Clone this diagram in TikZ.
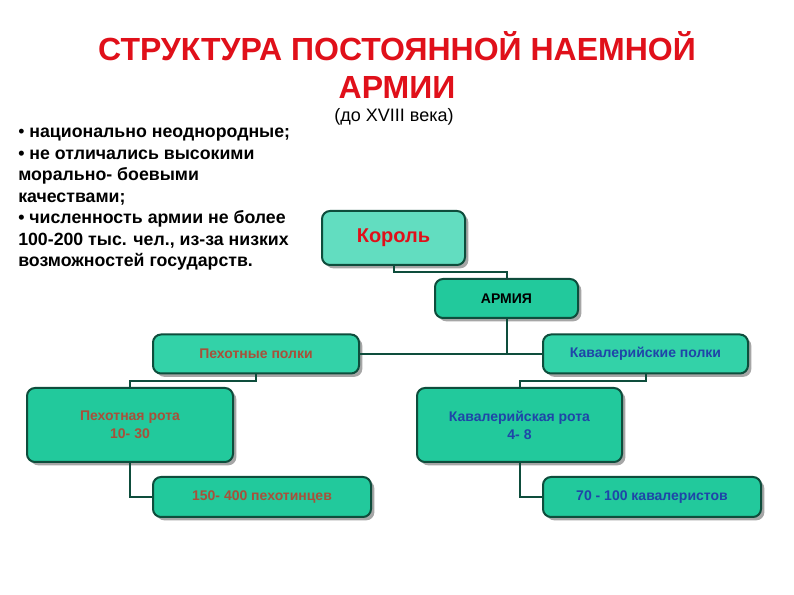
\documentclass[tikz,border=0pt]{standalone}
\usepackage{fontspec}
\setmainfont{Liberation Sans}
\usetikzlibrary{shadows}
\definecolor{boxfill}{HTML}{22C99C}
\definecolor{kingfill}{HTML}{62DDC0}
\definecolor{regfill}{HTML}{33D2A8}
\definecolor{boxline}{HTML}{0E4D3C}
\definecolor{titlered}{HTML}{E0101A}
\definecolor{infbrown}{HTML}{A8503A}
\definecolor{cavblue}{HTML}{1F45A8}
\tikzset{
  x=0.75pt, y=-0.75pt,
  orgbox/.style={draw=boxline, line width=1.5pt, rounded corners=6pt, fill=boxfill,
    drop shadow={shadow xshift=2.5pt, shadow yshift=-2.5pt, fill=black!35, opacity=1},
    align=center, inner sep=2pt, font=\bfseries\fontsize{10.5}{13.5}\selectfont},
  conn/.style={draw=boxline, line width=1.5pt},
}
\begin{document}
\begin{tikzpicture}
\fill[white] (0,0) rectangle (794,595);
\useasboundingbox (0,0) rectangle (794,595);

\node[text=titlered, font=\bfseries\fontsize{24}{28}\selectfont, align=center] (title) at (397,65)
  {СТРУКТУРА ПОСТОЯННОЙ НАЕМНОЙ\\АРМИИ};
\node[font=\fontsize{13.5}{15}\selectfont] (period) at (394,117) {(до XVIII века)};

\node[anchor=north west, align=left, inner sep=0pt, font=\bfseries\fontsize{13.3}{16.1}\selectfont] (notes) at (18,128)
  {{\mdseries•} национально неоднородные;\\
   • не отличались высокими\\
   морально- боевыми\\
   качествами;\\
   • численность армии не более\\
   100-200 тыс. чел., из-за низких\\
   возможностей государств.};

\node[orgbox, fill=kingfill, minimum width=143*0.75pt, minimum height=54*0.75pt, text=titlered,
  font=\bfseries\fontsize{15}{17}\selectfont] (king) at (393.5,238) {Король};
\node[orgbox, minimum width=143*0.75pt, minimum height=39*0.75pt, font=\bfseries\fontsize{10.5}{12}\selectfont]
  (army) at (506.5,298.5) {АРМИЯ};
\node[orgbox, fill=regfill, minimum width=206*0.75pt, minimum height=39*0.75pt, text=infbrown]
  (inf) at (256,354) {Пехотные полки};
\node[orgbox, fill=regfill, minimum width=205*0.75pt, minimum height=39*0.75pt, text=cavblue]
  (cav) at (645.5,354) {Кавалерийские полки};
\node[orgbox, minimum width=206*0.75pt, minimum height=74*0.75pt, text=infbrown]
  (infco) at (130,425) {Пехотная рота\\10- 30};
\node[orgbox, minimum width=205*0.75pt, minimum height=74*0.75pt, text=cavblue]
  (cavco) at (519.5,425) {Кавалерийская рота\\4- 8};
\node[orgbox, minimum width=218*0.75pt, minimum height=40*0.75pt, text=infbrown]
  (infmen) at (262,497) {150- 400 пехотинцев};
\node[orgbox, minimum width=218*0.75pt, minimum height=40*0.75pt, text=cavblue]
  (cavmen) at (652,497) {70 - 100 кавалеристов};

\draw[conn] (king.south) -- ++(0,6) -| (army.north);
\draw[conn] (army.south) -- (army.south |- inf.east);
\draw[conn] (inf.east) -- (cav.west);
\draw[conn] (inf.south) -- ++(0,7) -| (infco.north);
\draw[conn] (cav.south) -- ++(0,7) -| (cavco.north);
\draw[conn] (infco.south) |- (infmen.west);
\draw[conn] (cavco.south) |- (cavmen.west);
\end{tikzpicture}
\end{document}
